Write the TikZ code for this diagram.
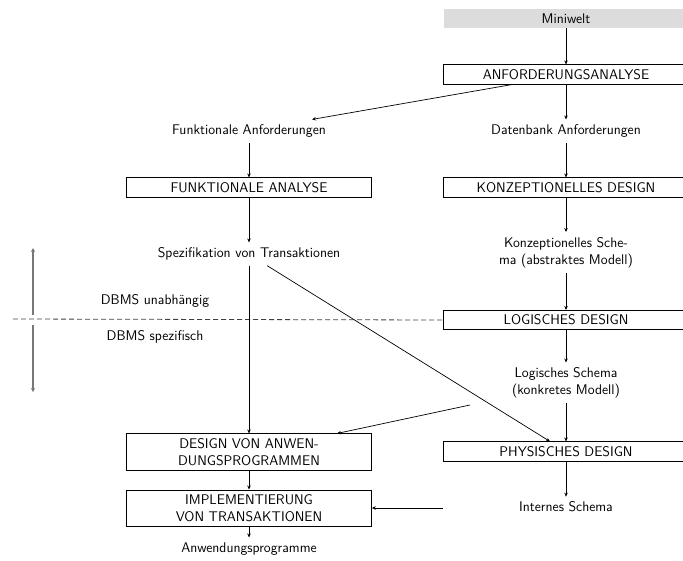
\documentclass[tikz,border=0pt]{standalone}
\usepackage{fontspec}
\renewcommand{\familydefault}{\sfdefault}
\usetikzlibrary{arrows.meta, calc}
\definecolor{weltgray}{RGB}{220,220,220}
\definecolor{sidegray}{RGB}{120,120,120}

\begin{document}
\begin{tikzpicture}[
    x=1pt, y=-1pt,
    font=\sffamily\fontsize{14}{17}\selectfont,
    stage/.style={draw, line width=0.8pt, minimum width=245pt, minimum height=19pt, inner sep=4.5pt, align=center},
    info/.style={inner sep=5pt, align=center},
    flow/.style={line width=0.7pt, -{Stealth[length=4pt, width=3.5pt]}},
    side/.style={line width=1.6pt, sidegray, -{Stealth[length=4pt, width=4pt]}}
]
    \useasboundingbox (0,0) rectangle (683,560);

    % Datenbank-Seite
    \node[stage, draw=none, fill=weltgray] (mini) at (566,18.5) {Miniwelt};
    \node[stage] (anf) at (566,74.5) {ANFORDERUNGSANALYSE};
    \node[info] (dbanf) at (566,131) {Datenbank Anforderungen};
    \node[stage] (konz) at (566,187.5) {KONZEPTIONELLES DESIGN};
    \node[info] (konzschema) at (566,252.5) {Konzeptionelles Sche-\\ma (abstraktes Modell)};
    \node[stage] (log) at (566,320) {LOGISCHES DESIGN};
    \node[info] (logschema) at (566,383) {Logisches Schema\\(konkretes Modell)};
    \node[stage] (phys) at (566,451.5) {PHYSISCHES DESIGN};
    \node[info] (internes) at (566,507) {Internes Schema};

    % Funktionale Seite
    \node[info] (funkanf) at (249,131) {Funktionale Anforderungen};
    \node[stage] (funkana) at (249,187.5) {FUNKTIONALE ANALYSE};
    \node[info] (spez) at (249,254) {Spezifikation von Transaktionen};
    \node[stage] (dva) at (249,452) {DESIGN VON ANWEN-\\DUNGSPROGRAMMEN};
    \node[stage] (impl) at (249,508) {IMPLEMENTIERUNG\\VON TRANSAKTIONEN};
    \node[info] (anwprog) at (249,549) {Anwendungsprogramme};

    % DBMS Grenze
    \node[info] (dbmsu) at (155,301) {DBMS unabhängig};
    \node[info] (dbmss) at (155,337) {DBMS spezifisch};
    \coordinate (grenze) at (13,319);
    \coordinate (sidetop) at (33,248);
    \coordinate (sideup) at (33,315);
    \coordinate (sidedown) at (33,325);
    \coordinate (sidebot) at (33,392);
    \coordinate (lsout) at (470,405);

    \draw[black!75, line width=0.8pt, dash pattern=on 5pt off 3pt] (grenze) -- (log.west);
    \draw[side] (sideup) -- (sidetop);
    \draw[side] (sidedown) -- (sidebot);

    % Pfeile
    \draw[flow] (mini) -- (anf);
    \draw[flow] (anf) -- (dbanf);
    \draw[flow] (dbanf) -- (konz);
    \draw[flow] (konz) -- (konzschema);
    \draw[flow] (konzschema) -- (log);
    \draw[flow] (log) -- (logschema);
    \draw[flow] (logschema) -- (phys);
    \draw[flow] (phys) -- (internes);

    \draw[flow] ([xshift=-54pt]anf.south) -- ([xshift=63pt]funkanf.north);
    \draw[flow] (funkanf) -- (funkana);
    \draw[flow] (funkana) -- (spez);
    \draw[flow] (spez) -- (dva);
    \draw[flow] (dva) -- (impl);
    \draw[flow] (impl) -- (anwprog);

    \draw[flow] ([xshift=18pt]spez.south) -- ([xshift=-16pt]phys.north);
    \draw[flow] (lsout) -- ([xshift=88pt]dva.north);
    \draw[flow] (phys.west |- impl.east) -- (impl.east);
\end{tikzpicture}
\end{document}
